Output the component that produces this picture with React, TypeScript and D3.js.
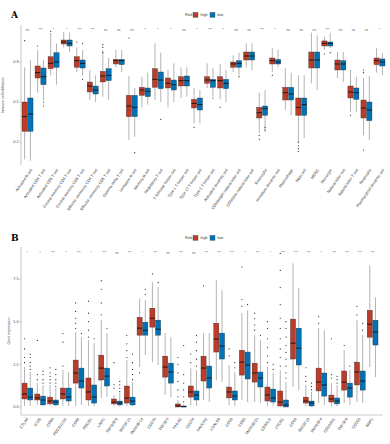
import React from 'react';
import * as d3 from 'd3';

const W = 390;
const H = 444;
const HIGH = '#BC3C29';
const LOW = '#0072B5';
const FONT = 'Liberation Sans, Arial, sans-serif';

// ---- panel A: immune cells ----
const cellTypes = [
  'Activated B cell', 'Activated CD4 T cell', 'Activated CD8 T cell', 'Central memory CD4 T cell',
  'Central memory CD8 T cell', 'Effector memeory CD4 T cell', 'Effector memeory CD8 T cell', 'Gamma delta T cell',
  'Immature  B cell', 'Memory B cell', 'Regulatory T cell', 'T follicular helper cell',
  'Type 1 T helper cell', 'Type 17 T helper cell', 'Type 2 T helper cell', 'Activated dendritic cell',
  'CD56bright natural killer cell', 'CD56dim natural killer cell', 'Eosinophil', 'Immature dendritic cell',
  'Macrophage', 'Mast cell', 'MDSC', 'Monocyte',
  'Natural killer cell', 'Natural killer T cell', 'Neutrophil', 'Plasmacytoid dendritic cell',
];
const cellSig = ['ns', '***', '*', '*', '***', '***', 'ns', 'ns', 'ns', '*', '*', '*', 'ns', '*',
  '***', '*', 'ns', 'ns', '***', '*', 'ns', 'ns', 'ns', '***', 'ns', 'ns', 'ns', '*'];
// [min, q1, median, q3, max]
const cellHigh = [
  [0.07, 0.28, 0.39, 0.5, 0.76], [0.57, 0.68, 0.72, 0.77, 0.89], [0.7, 0.75, 0.79, 0.84, 1.0],
  [0.91, 0.935, 0.95, 0.965, 1.025], [0.725, 0.76, 0.81, 0.84, 0.91], [0.515, 0.575, 0.62, 0.65, 0.74],
  [0.54, 0.65, 0.695, 0.73, 0.89], [0.76, 0.785, 0.81, 0.82, 0.89], [0.215, 0.39, 0.47, 0.55, 0.695],
  [0.46, 0.55, 0.59, 0.61, 0.69], [0.515, 0.61, 0.67, 0.75, 0.94], [0.46, 0.605, 0.64, 0.68, 0.74],
  [0.53, 0.62, 0.66, 0.69, 0.76], [0.34, 0.455, 0.49, 0.52, 0.605], [0.605, 0.64, 0.665, 0.69, 0.79],
  [0.52, 0.605, 0.66, 0.69, 0.785], [0.725, 0.76, 0.785, 0.8, 0.85], [0.76, 0.815, 0.845, 0.875, 0.94],
  [0.27, 0.38, 0.42, 0.46, 0.57], [0.725, 0.785, 0.81, 0.83, 0.905], [0.44, 0.515, 0.57, 0.61, 0.755],
  [0.19, 0.4, 0.46, 0.53, 0.7], [0.64, 0.755, 0.815, 0.875, 1.02], [0.89, 0.92, 0.94, 0.958, 0.99],
  [0.68, 0.74, 0.785, 0.815, 0.875], [0.425, 0.53, 0.575, 0.62, 0.74], [0.25, 0.38, 0.455, 0.515, 0.68],
  [0.72, 0.78, 0.81, 0.83, 0.905],
];
const cellLow = [
  [0.06, 0.28, 0.41, 0.53, 0.815], [0.515, 0.63, 0.69, 0.755, 0.815], [0.63, 0.76, 0.8, 0.87, 0.94],
  [0.875, 0.92, 0.94, 0.965, 1.02], [0.7, 0.755, 0.79, 0.815, 0.89], [0.5, 0.56, 0.59, 0.62, 0.7],
  [0.515, 0.66, 0.7, 0.75, 0.83], [0.725, 0.78, 0.81, 0.82, 0.89], [0.24, 0.39, 0.46, 0.55, 0.605],
  [0.48, 0.54, 0.58, 0.605, 0.72], [0.5, 0.6, 0.665, 0.725, 0.87], [0.5, 0.59, 0.63, 0.665, 0.79],
  [0.54, 0.62, 0.66, 0.695, 0.76], [0.34, 0.44, 0.48, 0.53, 0.59], [0.54, 0.61, 0.66, 0.67, 0.755],
  [0.5, 0.6, 0.64, 0.67, 0.74], [0.7, 0.76, 0.79, 0.81, 0.87], [0.74, 0.815, 0.845, 0.875, 0.94],
  [0.275, 0.4, 0.45, 0.47, 0.59], [0.76, 0.785, 0.8, 0.82, 0.89], [0.4, 0.515, 0.56, 0.61, 0.72],
  [0.23, 0.4, 0.48, 0.53, 0.7], [0.59, 0.755, 0.815, 0.875, 1.0], [0.905, 0.92, 0.94, 0.95, 1.02],
  [0.65, 0.74, 0.785, 0.81, 0.875], [0.425, 0.52, 0.57, 0.605, 0.69], [0.215, 0.36, 0.44, 0.5, 0.695],
  [0.7, 0.77, 0.8, 0.823, 0.868],
];
const cellHighOut = [[0.96], [0.92], [1.01, 1.03], [], [0.95], [], [0.87, 0.91, 0.93], [], [0.98], [], [], [],
  [], [0.31], [], [0.46], [], [], [0.25, 0.22], [0.7], [], [0.2, 0.17, 0.15, 0.13], [], [0.86], [], [0.4],
  [0.14, 0.74, 0.72], []];
const cellLowOut = [[], [0.5, 0.47], [], [], [0.67, 0.94], [], [], [], [0.12], [], [0.37], [],
  [], [], [0.53], [], [0.69], [], [0.31, 0.29], [], [], [], [], [0.87], [], [], [], []];

// ---- panel B: checkpoint genes ----
const genes = ['CTLA4', 'ICOS', 'CD86', 'PDCD1LG2', 'CD48', 'PDCD1', 'LAIR1', 'TNFRSF8', 'TNFSF15', 'TNFRSF14',
  'CD276', 'TNFSF4', 'HHLA2', 'CD274', 'HAVCR2', 'LGALS9', 'CD28', 'CD80', 'TNFRSF25', 'CD40LG',
  'VTCN1', 'CD44', 'TNFSF18', 'TNFRSF4', 'CD200R1', 'TNFSF9', 'CD200', 'NRP1'];
const geneSig = ['*', '*', '***', '*', '***', '*', '***', 'ns', '***', '*', '***', 'ns', '***', 'ns',
  '***', '***', '***', '*', '***', '*', '***', '***', '***', '*', '***', '***', '***', '***'];
const geneHigh = [
  [0.06, 0.47, 0.76, 1.4, 2.34], [0.12, 0.41, 0.53, 0.76, 1.4], [0.06, 0.18, 0.35, 0.58, 1.29],
  [0.06, 0.47, 0.76, 1.11, 2.16], [0.06, 1.4, 1.99, 2.75, 4.39], [0.06, 0.41, 0.88, 1.7, 3.92],
  [0.53, 1.58, 2.28, 3.04, 5.09], [0.03, 0.18, 0.29, 0.47, 0.7], [0.06, 0.23, 0.53, 1.23, 2.75],
  [2.34, 4.21, 4.62, 5.26, 6.37], [2.63, 4.68, 5.2, 5.79, 7.31], [0.7, 1.75, 2.34, 2.98, 4.33],
  [0, 0, 0.06, 0.18, 0.41], [0.12, 0.58, 0.88, 1.23, 2.28], [0.41, 1.52, 2.28, 2.98, 4.33],
  [1.58, 3.22, 3.98, 4.91, 7.43], [0.12, 0.53, 0.88, 1.17, 2.46], [0.41, 1.87, 2.63, 3.33, 5.5],
  [0.29, 1.46, 1.99, 2.57, 4.2], [0.06, 0.35, 0.7, 1.17, 2.34], [0, 0.06, 0.29, 0.94, 2.16],
  [1.17, 2.81, 3.74, 5.15, 8.42], [0.06, 0.23, 0.35, 0.58, 1.29], [0.23, 0.94, 1.46, 2.28, 4.62],
  [0.06, 0.29, 0.47, 0.7, 1.4], [0.23, 0.99, 1.46, 2.11, 3.33], [0.29, 1.29, 2.05, 2.63, 5.09],
  [2.34, 4.09, 4.85, 5.67, 8.3],
];
const geneLow = [
  [0.06, 0.41, 0.58, 1.11, 2.05], [0.06, 0.12, 0.41, 0.64, 1.29], [0.03, 0.12, 0.29, 0.41, 1.11],
  [0.06, 0.35, 0.58, 1.11, 2.05], [0.12, 1.11, 1.52, 2.28, 4.09], [0.06, 0.23, 0.58, 1.29, 3.74],
  [0.58, 1.23, 1.81, 2.28, 4.33], [0.03, 0.12, 0.23, 0.35, 0.82], [0.03, 0.12, 0.35, 0.58, 1.46],
  [3.04, 4.21, 4.5, 4.97, 6.26], [2.46, 4.21, 4.56, 5.09, 7.02], [0.58, 1.4, 2.05, 2.57, 4.09],
  [0, 0, 0.02, 0.06, 0.15], [0.06, 0.41, 0.7, 0.94, 2.16], [0.29, 1.11, 1.7, 2.4, 4.33],
  [1.46, 2.81, 3.57, 4.33, 6.84], [0.06, 0.41, 0.64, 0.94, 2.05], [0.29, 1.64, 2.46, 3.22, 5.67],
  [0.23, 1.17, 1.7, 2.05, 3.92], [0.06, 0.29, 0.53, 1.05, 1.99], [0, 0, 0.12, 0.41, 1.46],
  [0.99, 2.46, 3.45, 4.62, 6.96], [0, 0.06, 0.23, 0.35, 0.88], [0.12, 0.64, 1.29, 1.99, 4.5],
  [0.03, 0.18, 0.35, 0.53, 1.29], [0.12, 0.58, 1.11, 1.4, 2.16], [0.23, 0.99, 1.52, 2.11, 4.21],
  [1.75, 3.63, 4.39, 5.09, 6.43],
];
const geneHighOut = [[2.6, 2.9, 3.4, 4.0], [1.6, 1.9, 3.9], [1.4, 1.6, 1.8, 2.0, 2.3], [2.4, 3.8, 4.3],
  [4.6, 4.9, 5.2, 5.6, 6.1], [4.1, 4.5, 5.0, 5.5, 6.2], [5.4, 6.1, 6.9, 7.4], [1.1, 1.3, 2.6],
  [2.9, 3.3, 3.7, 4.2], [2.0], [7.8], [], [0.6, 1.0, 1.5, 2.0, 2.5, 2.9], [2.6, 3.1], [7.1], [],
  [3.0, 3.4], [5.9, 6.3, 8.2], [4.5, 4.8, 5.2, 5.5], [2.6, 3.0, 3.5, 4.0, 4.6, 5.0],
  [2.4, 2.9, 3.4, 4.0, 4.6, 5.2, 6.0, 7.0, 8.0, 9.0], [], [1.5, 1.8, 2.3], [4.9, 5.3],
  [1.7, 1.9, 4.0], [3.6], [5.4, 5.9], []];
const geneLowOut = [[2.2, 2.4, 2.6, 2.9, 3.1], [1.4, 1.6, 1.9, 2.1], [1.2, 1.4, 1.6, 1.9, 2.2], [],
  [4.3], [4.0], [4.6], [0.9, 1.1, 1.3, 1.5], [1.6, 1.9, 2.2, 2.6, 3.1], [6.6, 6.9], [7.3], [],
  [0.3, 0.6, 1.0, 1.4, 1.9, 3.6], [2.4, 2.8, 3.3, 3.8, 4.2], [], [], [2.3, 2.6], [6.0], [4.2], [2.2, 2.5],
  [1.7, 2.0, 2.4, 2.8, 3.2, 3.6, 4.1, 4.6, 5.0], [], [1.0, 1.2, 1.4], [], [1.4, 1.6, 1.8], [2.4],
  [4.5, 4.9], []];

const Box = ({ cx, w, s, out, y, fill }) => {
  const [mn, q1, md, q3, mx] = s;
  return (
    <g>
      <line x1={cx} x2={cx} y1={y(mx)} y2={y(q3)} stroke="#666" strokeWidth={0.5} />
      <line x1={cx} x2={cx} y1={y(q1)} y2={y(mn)} stroke="#666" strokeWidth={0.5} />
      <rect x={cx - w / 2} y={y(q3)} width={w} height={Math.max(0.6, y(q1) - y(q3))}
        fill={fill} stroke="#2a2a2a" strokeWidth={0.35} />
      <line x1={cx - w / 2} x2={cx + w / 2} y1={y(md)} y2={y(md)} stroke="#111" strokeWidth={0.9} />
      {out.map((v, i) => <circle key={i} cx={cx} cy={y(v)} r={0.6} fill="#222" />)}
    </g>
  );
};

const Panel = ({ letter, top, cats, high, low, highOut, lowOut, sig, x, y, ticks, fmt,
  yTop, yBottom, sigY, labY, labDx, title, titleX, bottomLine }) => {
  const bw = x.bandwidth();
  const boxW = bw * 0.4;
  const titleY = (yTop + yBottom) / 2;
  return (
    <g fontFamily={FONT}>
      <text x={11} y={top + 4} fontFamily="DejaVu Serif, serif" fontWeight="bold" fontSize={9}>{letter}</text>
      {/* legend */}
      <text x={185} y={top + 2} fontSize={3.8} fill="#333">Risk</text>
      <rect x={193} y={top - 1.6} width={5} height={5} fill={HIGH} stroke="#333" strokeWidth={0.3} />
      <text x={200.5} y={top + 2} fontSize={3.8} fill="#333">high</text>
      <rect x={210} y={top - 1.6} width={5} height={5} fill={LOW} stroke="#333" strokeWidth={0.3} />
      <text x={217.5} y={top + 2} fontSize={3.8} fill="#333">low</text>

      {/* y axis */}
      <line x1={x.range()[0]} x2={x.range()[0]} y1={yTop} y2={yBottom} stroke="#888" strokeWidth={0.5} />
      {bottomLine && <line x1={x.range()[0]} x2={x.range()[1] + 4} y1={yBottom} y2={yBottom} stroke="#999" strokeWidth={0.5} />}
      {ticks.map(t => (
        <g key={t}>
          <line x1={x.range()[0] - 1.5} x2={x.range()[0]} y1={y(t)} y2={y(t)} stroke="#888" strokeWidth={0.5} />
          <text x={x.range()[0] - 2.5} y={y(t) + 1.3} fontSize={3.8} textAnchor="end" fill="#444">{fmt(t)}</text>
        </g>
      ))}
      <text transform={`translate(${titleX},${titleY}) rotate(-90)`} fontSize={3.6} textAnchor="middle" fill="#444">{title}</text>

      {cats.map((c, i) => {
        const cx = x(c) + bw / 2;
        return (
          <g key={c}>
            <text x={cx} y={sigY} fontSize={3.2} textAnchor="middle" fill="#555">{sig[i]}</text>
            <Box cx={cx - boxW / 2 - 0.3} w={boxW} s={high[i]} out={highOut[i]} y={y} fill={HIGH} />
            <Box cx={cx + boxW / 2 + 0.3} w={boxW} s={low[i]} out={lowOut[i]} y={y} fill={LOW} />
            <text transform={`translate(${cx + labDx},${labY}) rotate(-55)`} fontSize={3.9}
              textAnchor="end" fill="#333">{c}</text>
          </g>
        );
      })}
    </g>
  );
};

const App = () => {
  const xA = d3.scaleBand().domain(cellTypes).range([21, 386]);
  const yA = d3.scaleLinear().domain([0.2, 0.8]).range([142, 62]);
  const xB = d3.scaleBand().domain(genes).range([21, 379]);
  const yB = d3.scaleLinear().domain([0, 7.5]).range([407, 279]);
  return (
    <svg width={W} height={H} style={{ position: 'absolute', left: 0, top: 0, background: '#fff' }}>
      <rect width={W} height={H} fill="#fff" />
      <Panel letter="A" top={14} cats={cellTypes} high={cellHigh} low={cellLow} highOut={cellHighOut}
        lowOut={cellLowOut} sig={cellSig} x={xA} y={yA} ticks={[0.2, 0.5, 0.8]} fmt={d3.format('.1f')}
        yTop={25} yBottom={165} sigY={31} labY={170} labDx={5} title="Immune cell infiltration" titleX={4}
        bottomLine={false} />
      <Panel letter="B" top={237} cats={genes} high={geneHigh} low={geneLow} highOut={geneHighOut}
        lowOut={geneLowOut} sig={geneSig} x={xB} y={yB} ticks={[0, 2.5, 5, 7.5]} fmt={d3.format('.1f')}
        yTop={247} yBottom={415} sigY={254} labY={419} labDx={1} title="Gene expression" titleX={10}
        bottomLine={true} />
    </svg>
  );
};

export default App;
